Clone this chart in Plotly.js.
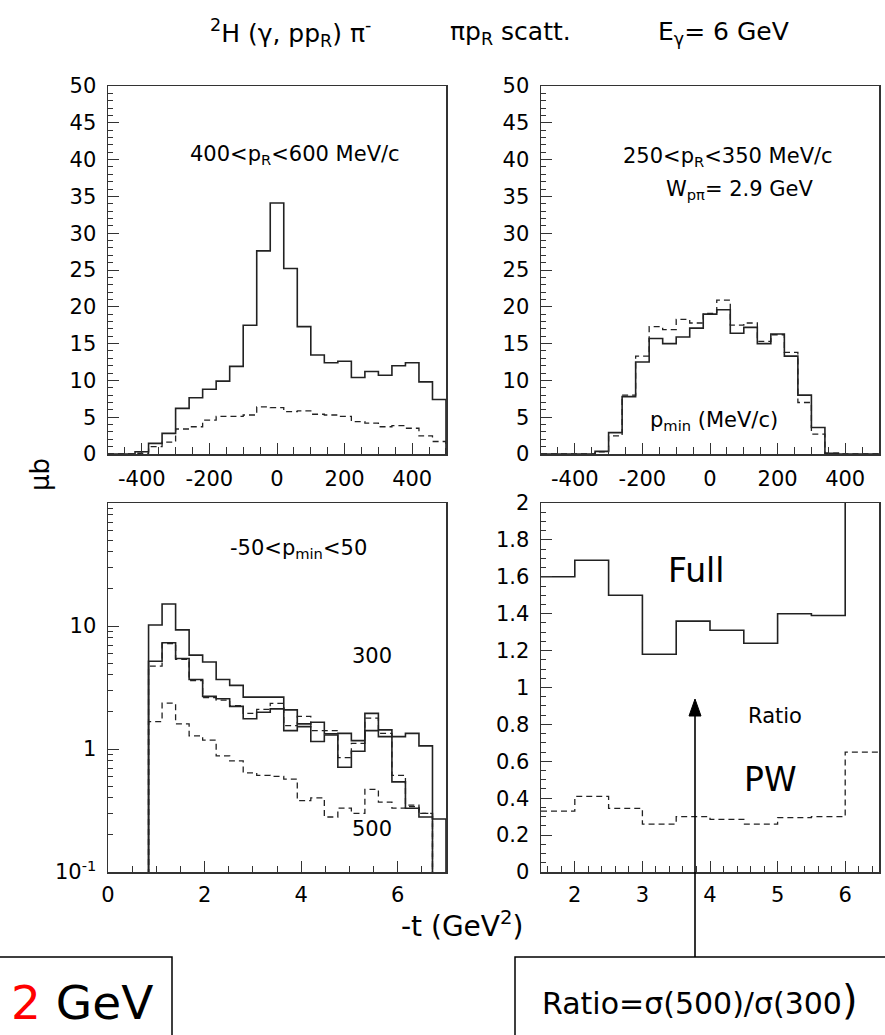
<!DOCTYPE html>
<html>
<head>
<meta charset="utf-8">
<script src="https://cdn.plot.ly/plotly-3.0.1.min.js"></script>
<style>body{margin:0;background:#fff}</style>
</head>
<body>
<div id="chart" style="width:885px;height:1035px"></div>
<script>
// p_R / p_min histograms, 40 MeV/c bins from -500 to 500
const pEdges = [-500,-460,-420,-380,-340,-300,-260,-220,-180,-140,-100,-60,-20,
                20,60,100,140,180,220,260,300,340,380,420,460,500];
const tlFull = [0,0,0.3,1.45,2.8,6.2,7.65,8.8,9.9,11.9,17.5,27.6,34.1,25.2,17.3,13.45,12.4,12.6,10.4,11.2,10.7,12.0,12.4,9.8,7.4];
const tlPW   = [0,0,0.1,1.0,1.6,3.4,3.7,4.6,5.1,5.1,5.3,6.4,6.3,5.75,5.85,5.4,5.3,5.1,4.4,4.2,3.7,3.85,3.5,2.45,1.7];
const trFull = [0,0,0,0,0.35,2.9,7.8,12.5,15.7,15.0,15.9,17.1,19.0,19.6,16.4,17.2,15.0,16.3,13.3,8.0,3.6,0.1,0,0,0];
const trPW   = [0,0,0,0,0.3,2.45,8.0,13.3,17.3,16.9,18.3,17.8,19.1,20.9,17.5,17.8,15.3,16.2,13.8,7.0,2.7,0.1,0,0,0];

// -t histograms (GeV^2), log scale
const tEdges = [0.84,1.12,1.40,1.68,1.96,2.24,2.52,2.80,3.08,3.36,3.64,3.92,4.20,4.48,
                4.76,5.04,5.32,5.60,5.88,6.16,6.44,6.72,7.00];
const full500 = [10.2,15.1,9.3,5.8,5.1,3.67,3.29,2.64,2.64,2.64,2.08,1.60,1.65,1.33,1.34,1.17,1.95,1.43,1.26,1.34,1.06,0.27];
const full300 = [5.17,7.3,5.44,3.67,2.68,2.56,2.22,1.76,1.99,2.12,1.41,1.52,1.15,1.30,0.71,0.96,1.41,1.26,0.54,0.33,0.28];
const pw300   = [4.71,7.2,5.35,3.6,2.62,2.5,2.25,1.95,2.1,2.35,1.55,1.84,1.41,1.41,0.85,1.11,1.78,1.34,0.61,0.35,0.30];
const pw500   = [1.67,2.36,1.60,1.28,1.18,0.88,0.80,0.64,0.61,0.60,0.57,0.38,0.40,0.28,0.33,0.30,0.47,0.37,0.33,0.34,0.30];

// ratio sigma(500)/sigma(300)
const rEdges = [1.5,2,2.5,3,3.5,4,4.5,5,5.5,6,6.5];
const ratioFull = [1.60,1.69,1.50,1.18,1.36,1.31,1.24,1.40,1.39,2.5];
const ratioPW   = [0.33,0.41,0.345,0.26,0.30,0.285,0.26,0.295,0.30,0.65];

// tick labels
const pTickVals = [-400,-200,0,200,400];
const pTickText = ['-400','-200','0','200','400'];
const tTickVals = [0,2,4,6];
const logTickVals = [0.1,1,10];
const logTickText = ['10<sup>-1</sup>','1','10'];
const logMinorVals = [0.2,0.3,0.4,0.5,0.6,0.7,0.8,0.9,2,3,4,5,6,7,8,9,20,30,40,50,60,70,80,90];

const FONT = 'DejaVu Sans, Liberation Sans, Arial, sans-serif';
const W = 885, H = 1035;
const px = v => v / W;
const py = v => 1 - v / H;

// step histogram in ROOT style, optionally dropping to a floor at both ends
function hist(edges, vals, xa, ya, dashed, floor) {
  let x = [], y = [];
  if (floor !== null) { x.push(edges[0]); y.push(floor); }
  vals.forEach((v, i) => { x.push(edges[i]); y.push(v); });
  x.push(edges[vals.length]);
  y.push(floor !== null ? floor : vals[vals.length - 1]);
  return {
    x: x, y: y, xaxis: xa, yaxis: ya, type: 'scatter', mode: 'lines',
    line: {shape: 'hv', color: '#222', width: dashed ? 1.3 : 1.6, dash: dashed ? '6px,4px' : 'solid'},
    hoverinfo: 'skip', showlegend: false
  };
}

const traces = [
  hist(pEdges, tlPW, 'x', 'y', true, 0),
  hist(pEdges, tlFull, 'x', 'y', false, 0),
  hist(pEdges, trPW, 'x2', 'y2', true, 0),
  hist(pEdges, trFull, 'x2', 'y2', false, 0),
  hist(tEdges, pw500, 'x3', 'y3', true, 0.01),
  hist(tEdges, pw300, 'x3', 'y3', true, 0.01),
  hist(tEdges, full300, 'x3', 'y3', false, 0.01),
  hist(tEdges, full500, 'x3', 'y3', false, 0.01),
  hist(rEdges, ratioPW, 'x4', 'y4', true, null),
  hist(rEdges, ratioFull, 'x4', 'y4', false, null)
];

function ax(extra) {
  return Object.assign({
    showline: true, linecolor: '#333', linewidth: 1.5, mirror: true,
    ticks: 'inside', ticklen: 11, tickwidth: 1, tickcolor: '#333',
    showgrid: false, zeroline: false, fixedrange: true,
    tickfont: {family: FONT, size: 21, color: '#000'}
  }, extra);
}

const colL = [px(108), px(446)], colR = [px(541), px(879)];
const rowT = [py(454), py(86)], rowB = [py(872), py(503)];

const xTop = {range: [-500, 500], tickmode: 'array', tickvals: pTickVals, ticktext: pTickText,
  minor: {dtick: 50, tick0: 0, ticks: 'inside', ticklen: 7, tickcolor: '#333'}, ticklabelstandoff: 5};
const yTop = {range: [0, 50], dtick: 5, minor: {dtick: 1, ticks: 'inside', ticklen: 5, tickcolor: '#333'},
  ticklabelstandoff: 6};

const layout = {
  width: W, height: H, margin: {l: 0, r: 0, t: 0, b: 0},
  paper_bgcolor: '#fff', plot_bgcolor: '#fff', showlegend: false,
  xaxis: ax(Object.assign({domain: colL, anchor: 'y'}, xTop)),
  yaxis: ax(Object.assign({domain: rowT, anchor: 'x'}, yTop)),
  xaxis2: ax(Object.assign({domain: colR, anchor: 'y2'}, xTop)),
  yaxis2: ax(Object.assign({domain: rowT, anchor: 'x2'}, yTop)),
  xaxis3: ax({domain: colL, anchor: 'y3', range: [0, 7], tickmode: 'array', tickvals: tTickVals,
    minor: {dtick: 0.5, tick0: 0, ticks: 'inside', ticklen: 6, tickcolor: '#333'}, ticklabelstandoff: 3}),
  yaxis3: ax({domain: rowB, anchor: 'x3', type: 'log', range: [-1, 2], tickmode: 'array',
    tickvals: logTickVals, ticktext: logTickText, ticklabelstandoff: 6,
    minor: {tickmode: 'array', tickvals: logMinorVals, ticks: 'inside', ticklen: 5, tickcolor: '#333'}}),
  xaxis4: ax({domain: colR, anchor: 'y4', range: [1.5, 6.5], dtick: 1, tick0: 0,
    minor: {dtick: 0.2, tick0: 0, ticks: 'inside', ticklen: 6, tickcolor: '#333'}, ticklabelstandoff: 3}),
  yaxis4: ax({domain: rowB, anchor: 'x4', range: [0, 2], dtick: 0.2, ticklabelstandoff: 6,
    minor: {dtick: 0.05, ticks: 'inside', ticklen: 5, tickcolor: '#333'}}),
  shapes: [
    {type: 'rect', xref: 'paper', yref: 'paper', x0: -0.01, x1: px(172), y0: -0.05, y1: py(957),
      line: {color: '#000', width: 1.5}},
    {type: 'rect', xref: 'paper', yref: 'paper', x0: px(515), x1: 1.01, y0: -0.05, y1: py(957),
      line: {color: '#000', width: 1.5}},
    // arrow from the ratio box up into the ratio panel
    {type: 'line', xref: 'paper', yref: 'paper', x0: px(695), x1: px(695), y0: py(957), y1: py(712),
      line: {color: '#000', width: 1.6}},
    {type: 'path', xref: 'paper', yref: 'paper',
      path: 'M ' + px(689) + ' ' + py(716) + ' L ' + px(695) + ' ' + py(699) + ' L ' + px(701) + ' ' + py(716) + ' Z',
      fillcolor: '#000', line: {color: '#000', width: 1}}
  ],
  annotations: []
};

function note(text, x, y, size, extra) {
  layout.annotations.push(Object.assign({
    text: text, xref: 'paper', yref: 'paper', x: px(x), y: py(y),
    xanchor: 'center', yanchor: 'middle', showarrow: false,
    font: {family: FONT, size: size, color: '#000'}
  }, extra || {}));
}

note('<sup>2</sup>H (γ, pp<sub>R</sub>) π<sup>-</sup>', 290, 33, 25);
note('πp<sub>R</sub> scatt.', 510, 33, 25);
note('E<sub>γ</sub>= 6 GeV', 723, 33, 25);
note('400&lt;p<sub>R</sub>&lt;600 MeV/c', 295, 155, 21);
note('250&lt;p<sub>R</sub>&lt;350 MeV/c', 728, 157, 21);
note('W<sub>pπ</sub>= 2.9 GeV', 739, 190, 21);
note('p<sub>min</sub> (MeV/c)', 714, 421, 21);
note('-50&lt;p<sub>min</sub>&lt;50', 298, 549, 21);
note('300', 372, 656, 21);
note('500', 372, 829, 21);
note('Full', 696, 570, 33);
note('Ratio', 775, 716, 21);
note('PW', 770, 779, 33);
note('μb', 40, 475, 26, {textangle: -90});
note('-t (GeV<sup>2</sup>)', 462, 924, 28);
note('<span style="color:#ff0000">2</span> GeV', 82, 1002, 47);
note('Ratio=σ(500)/σ(300<span style="font-size:40px">)</span>', 700, 1000, 30);

Plotly.newPlot('chart', traces, layout, {displayModeBar: false, staticPlot: true});
</script>
</body>
</html>
